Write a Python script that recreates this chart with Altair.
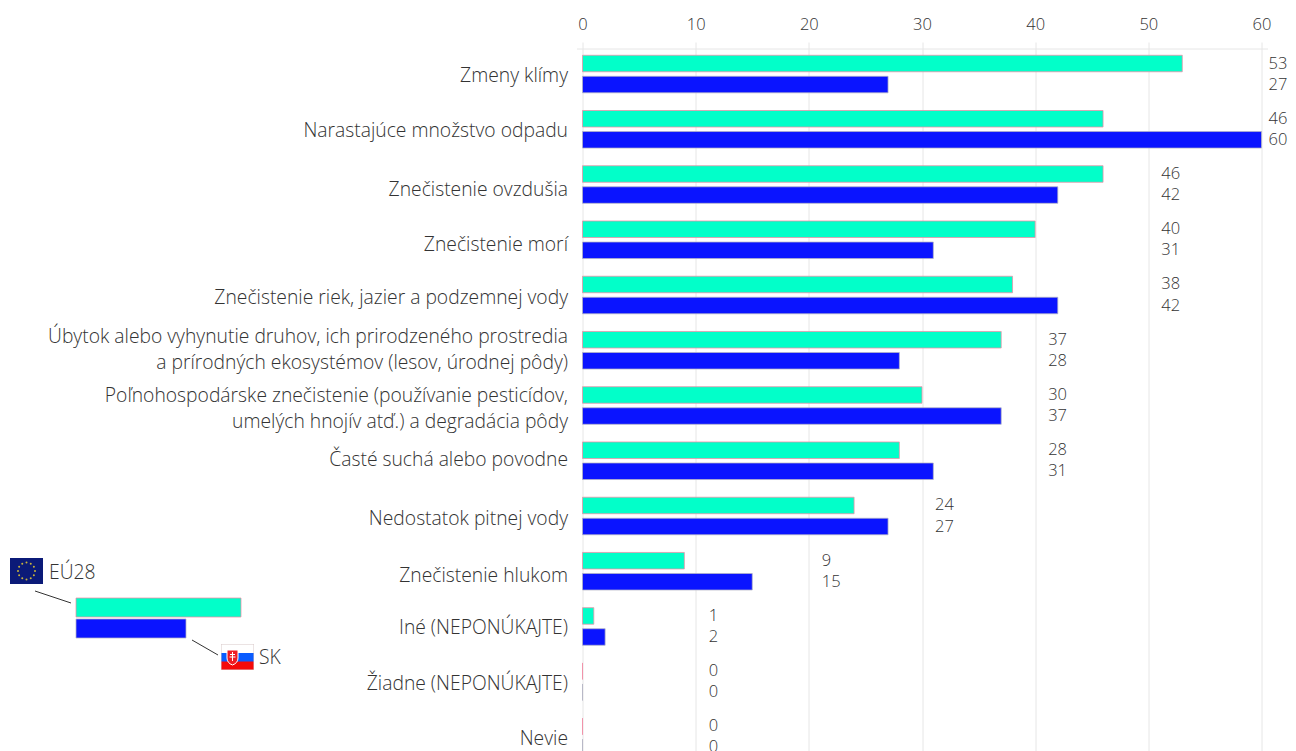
import math
import urllib.parse
import altair as alt
import pandas as pd

FONT = "Open Sans"
WEIGHT = 300
INK = "#333333"
TEAL = "#02FFC9"
BLUE = "#0A14FF"
TEAL_EDGE = "#F08CA5"
BLUE_EDGE = "#B4B4C4"

categories = [
    "Zmeny klímy",
    "Narastajúce množstvo odpadu",
    "Znečistenie ovzdušia",
    "Znečistenie morí",
    "Znečistenie riek, jazier a podzemnej vody",
    "Úbytok alebo vyhynutie druhov, ich prirodzeného prostredia|a prírodných ekosystémov (lesov, úrodnej pôdy)",
    "Poľnohospodárske znečistenie (používanie pesticídov,|umelých hnojív atď.) a degradácia pôdy",
    "Časté suchá alebo povodne",
    "Nedostatok pitnej vody",
    "Znečistenie hlukom",
    "Iné (NEPONÚKAJTE)",
    "Žiadne (NEPONÚKAJTE)",
    "Nevie",
]
eu28 = [53, 46, 46, 40, 38, 37, 30, 28, 24, 9, 1, 0, 0]
sk = [27, 60, 42, 31, 42, 28, 37, 31, 27, 15, 2, 0, 0]
series = ["EÚ28", "SK"]
ticks = [0, 10, 20, 30, 40, 50, 60]

rows = []
for c, e, s in zip(categories, eu28, sk):
    slot = min(60, (max(e, s) // 10 + 1) * 10)
    rows.append({"cat": c, "series": "EÚ28", "value": e, "slot": slot})
    rows.append({"cat": c, "series": "SK", "value": s, "slot": slot})
df = pd.DataFrame(rows)

X0, Y0 = 582.5, 42
W, H = 679, 727


def px(v):
    return v - X0


def py(v):
    return v - Y0


x_scale = alt.Scale(domain=[0, 60], range=[0, W], nice=False)
y_enc = alt.Y(
    "cat:N",
    sort=categories,
    scale=alt.Scale(paddingInner=0.32, paddingOuter=0.24),
    axis=alt.Axis(
        title=None,
        domain=False,
        ticks=False,
        labelExpr="split(datum.label, '|')",
        labelFont=FONT,
        labelFontSize=19.3,
        labelFontWeight=WEIGHT,
        labelColor=INK,
        labelLimit=600,
        labelPadding=15,
        labelLineHeight=26,
        labelBaseline="middle",
        labelOffset={
            "condition": [
                {"test": "indexof(datum.label, 'Poľ') >= 0", "value": -10},
                {"test": "indexof(datum.label, '|') >= 0", "value": -13},
                {"test": "indexof(datum.label, 'Časté') >= 0", "value": -1},
                {"test": "test(/ovzdušia|morí|hlukom/, datum.label)", "value": 5},
                {"test": "test(/Zmeny|Narastajúce|Iné|Žiadne|Nevie/, datum.label)", "value": 2},
            ],
            "value": 3,
        },
    ),
)
off = alt.YOffset(
    "series:N", sort=series, scale=alt.Scale(paddingInner=0.214, paddingOuter=0)
)

bars = (
    alt.Chart(df)
    .mark_bar(strokeWidth=1, strokeOpacity=0.75)
    .encode(
        x=alt.X(
            "value:Q",
            scale=x_scale,
            axis=alt.Axis(
                title=None,
                orient="top",
                values=ticks,
                domain=False,
                ticks=False,
                grid=True,
                gridColor="#E6E6E6",
                gridWidth=1,
                labelFont=FONT,
                labelFontSize=16.5,
                labelFontWeight=WEIGHT,
                labelColor=INK,
                labelPadding=10,
                labelFlush=False,
            ),
        ),
        y=y_enc,
        yOffset=off,
        color=alt.Color(
            "series:N",
            sort=series,
            scale=alt.Scale(domain=series, range=[TEAL, BLUE]),
            legend=None,
        ),
        stroke=alt.Stroke(
            "series:N",
            sort=series,
            scale=alt.Scale(domain=series, range=[TEAL_EDGE, BLUE_EDGE]),
            legend=None,
        ),
    )
)


def value_layer(test, dx):
    return (
        alt.Chart(df)
        .transform_filter(test)
        .mark_text(align="left", baseline="middle", dx=dx, font=FONT, fontWeight=WEIGHT, fontSize=16.5, color=INK)
        .encode(
            x=alt.X("slot:Q", scale=x_scale),
            y=alt.Y("cat:N", sort=categories),
            yOffset=off,
            text="value:Q",
        )
    )


one = pd.DataFrame({"a": [1]})

top_rule = (
    alt.Chart(one)
    .mark_rule(color="#E6E6E6", strokeWidth=1)
    .encode(x=alt.value(px(577)), x2=alt.value(px(1268)), y=alt.value(py(49)))
)


def rect(color, edge, x1, x2, y1, y2):
    return (
        alt.Chart(one)
        .mark_rect(color=color, stroke=edge, strokeWidth=1, strokeOpacity=0.75)
        .encode(
            x=alt.value(px(x1)), x2=alt.value(px(x2)),
            y=alt.value(py(y1)), y2=alt.value(py(y2)),
        )
    )


def line(x1, y1, x2, y2):
    return (
        alt.Chart(one)
        .mark_rule(color=INK, strokeWidth=1)
        .encode(
            x=alt.value(px(x1)), x2=alt.value(px(x2)),
            y=alt.value(py(y1)), y2=alt.value(py(y2)),
        )
    )


def label(text, x, y):
    return (
        alt.Chart(one)
        .mark_text(align="left", baseline="middle", font=FONT, fontWeight=WEIGHT, fontSize=19.3, color=INK, text=text)
        .encode(x=alt.value(px(x)), y=alt.value(py(y)))
    )


def svg_url(svg):
    return "data:image/svg+xml;utf8," + urllib.parse.quote(svg)


stars = "".join(
    '<circle cx="{:.2f}" cy="{:.2f}" r="1" fill="#C9B33A"/>'.format(
        16.5 + 8.5 * math.sin(i * math.pi / 6), 13 + 8.5 * math.cos(i * math.pi / 6)
    )
    for i in range(12)
)
eu_svg = (
    '<svg xmlns="http://www.w3.org/2000/svg" width="33" height="26" viewBox="0 0 33 26">'
    '<rect width="33" height="26" fill="#0B1A78"/>' + stars + "</svg>"
)
sk_svg = (
    '<svg xmlns="http://www.w3.org/2000/svg" width="33" height="26" viewBox="0 0 33 26">'
    '<rect width="33" height="9" fill="#FFFFFF"/>'
    '<rect y="9" width="33" height="9" fill="#0A5CFF"/>'
    '<rect y="17.5" width="33" height="8.5" fill="#F40A0A"/>'
    '<rect width="33" height="26" fill="none" stroke="#D8C8C8" stroke-width="1"/>'
    '<path d="M6 6 H17 V14 Q17 19 11.5 21 Q6 19 6 14 Z" fill="#EE1C25" stroke="#FFFFFF" stroke-width="1"/>'
    '<path d="M11.5 8 V17 M9 10.5 H14 M8.5 13 H14.5" stroke="#FFFFFF" stroke-width="1" fill="none"/>'
    "</svg>"
)


def flag(svg, x, y):
    d = pd.DataFrame({"u": [svg_url(svg)]})
    return (
        alt.Chart(d)
        .mark_image(width=33, height=26, aspect=False)
        .encode(x=alt.value(px(x)), y=alt.value(py(y)), url=alt.Url("u:N"))
    )


chart = (
    alt.layer(
        bars,
        value_layer("datum.slot < 60", 13),
        value_layer("datum.slot == 60", 7),
        top_rule,
        rect(TEAL, TEAL_EDGE, 76, 241, 598, 617),
        rect(BLUE, BLUE_EDGE, 76, 186, 619, 638),
        line(35, 591, 71, 603),
        line(192, 640, 218, 655),
        flag(eu_svg, 26.5, 571),
        flag(sk_svg, 237.5, 657),
        label("EÚ28", 49, 573),
        label("SK", 259, 658),
    )
    .properties(
        width=W,
        height=H,
        background="white",
        padding={"left": X0 - 8, "top": Y0 - 8, "right": 26.5, "bottom": 0},
        autosize=alt.AutoSizeParams(type="none"),
    )
    .configure_view(stroke=None)
)

chart.save("out.html", embed_options={"renderer": "svg", "actions": False})
